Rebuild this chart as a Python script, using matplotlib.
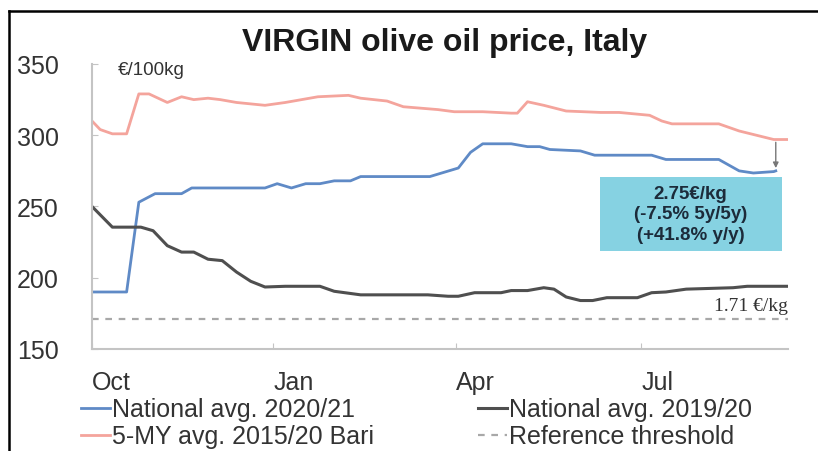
import pandas as pd
import matplotlib.pyplot as plt
from matplotlib.lines import Line2D
from matplotlib.patches import Rectangle

# ---- data (EUR/100kg) ----
nat_2021_dates = ['2020-10-04', '2020-10-21', '2020-10-27', '2020-11-04', '2020-11-17',
                  '2020-11-22', '2020-12-28', '2021-01-03', '2021-01-10', '2021-01-17',
                  '2021-01-24', '2021-01-31', '2021-02-08', '2021-02-13', '2021-03-19',
                  '2021-03-26', '2021-04-02', '2021-04-08', '2021-04-14', '2021-04-28',
                  '2021-05-06', '2021-05-12', '2021-05-17', '2021-06-01', '2021-06-08',
                  '2021-07-06', '2021-07-13', '2021-08-08', '2021-08-18', '2021-08-25',
                  '2021-09-04', '2021-09-05']
nat_2021_vals = [190, 190, 253, 259, 259, 263, 263, 266, 263, 266,
                 266, 268, 268, 271, 271, 274, 277, 288, 294, 294,
                 292, 292, 290, 289, 286, 286, 283, 283, 275, 273.5,
                 274.5, 275]

bari_dates = ['2020-10-04', '2020-10-08', '2020-10-14', '2020-10-21', '2020-10-27',
              '2020-11-01', '2020-11-10', '2020-11-17', '2020-11-23', '2020-11-30',
              '2020-12-06', '2020-12-14', '2020-12-28', '2021-01-07', '2021-01-23',
              '2021-02-07', '2021-02-13', '2021-02-26', '2021-03-06', '2021-03-23',
              '2021-03-31', '2021-04-14', '2021-04-28', '2021-05-01', '2021-05-06',
              '2021-05-14', '2021-05-25', '2021-06-11', '2021-06-20', '2021-07-05',
              '2021-07-11', '2021-07-16', '2021-08-08', '2021-08-18', '2021-09-04',
              '2021-09-11']
bari_vals = [310, 304, 301, 301, 329, 329, 323, 327, 325, 326,
             325, 323, 321, 323, 327, 328, 326, 324, 320, 318,
             316.5, 316.5, 315.5, 315.5, 323.5, 321, 317, 316, 316, 314,
             310, 308, 308, 303, 297, 297]

nat_1920_dates = ['2020-10-04', '2020-10-14', '2020-10-28', '2020-11-03', '2020-11-10',
                  '2020-11-17', '2020-11-23', '2020-11-30', '2020-12-07', '2020-12-14',
                  '2020-12-21', '2020-12-28', '2021-01-07', '2021-01-24', '2021-01-31',
                  '2021-02-13', '2021-03-18', '2021-03-28', '2021-04-02', '2021-04-10',
                  '2021-04-23', '2021-04-28', '2021-05-06', '2021-05-14', '2021-05-19',
                  '2021-05-25', '2021-06-01', '2021-06-07', '2021-06-14', '2021-06-29',
                  '2021-07-06', '2021-07-13', '2021-07-23', '2021-08-15', '2021-08-22',
                  '2021-09-11']
nat_1920_vals = [250, 235.5, 235.5, 233, 222.5, 218, 218, 213, 212, 204,
                 197.5, 193.5, 194, 194, 190.5, 188, 188, 187, 187, 189.5,
                 189.5, 191, 191, 193, 192, 186.5, 184, 184, 186, 186,
                 189.5, 190, 192, 193, 194, 194]

threshold_dates = ['2020-10-04', '2021-09-11']
threshold_vals = [171, 171]

month_ticks = ['2020-10-04', '2021-01-01', '2021-04-01', '2021-07-01']
month_labels = ['Oct', 'Jan', 'Apr', 'Jul']
yticks = [150, 200, 250, 300, 350]

plt.rcParams['font.family'] = ['Liberation Sans', 'DejaVu Sans']

BLUE = '#5f8ac6'
PINK = '#f4a49c'
DARK = '#4f4f4f'
GREY = '#a8a8a8'
SPINE = '#c4c4c4'

fig = plt.figure(figsize=(8.18, 4.52), dpi=100)
ax = fig.add_axes([0.1125, 0.2257, 0.8508, 0.6305])

l1, = ax.plot(pd.to_datetime(nat_2021_dates), nat_2021_vals, color=BLUE, lw=2)
l2, = ax.plot(pd.to_datetime(bari_dates), bari_vals, color=PINK, lw=2)
l3, = ax.plot(pd.to_datetime(nat_1920_dates), nat_1920_vals, color=DARK, lw=2.2)
l4, = ax.plot(pd.to_datetime(threshold_dates), threshold_vals, color=GREY, lw=1.6,
              ls=(0, (3, 3)))

ax.set_xlim(pd.Timestamp('2020-10-04'), pd.Timestamp('2021-09-11'))
ax.set_ylim(150, 350)
ax.set_yticks(yticks)
ax.set_xticks(pd.to_datetime(month_ticks))
ax.set_xticklabels(month_labels, ha='left')

for s in ['top', 'right']:
    ax.spines[s].set_visible(False)
for s in ['left', 'bottom']:
    ax.spines[s].set_color(SPINE)
    ax.spines[s].set_linewidth(1.5)
ax.tick_params(axis='both', direction='in', length=4, color=SPINE, labelsize=18,
               labelcolor='#333333')
ax.tick_params(axis='y', pad=24)
ax.tick_params(axis='x', pad=15)

# connector between 5-year average and current price
end_x = pd.Timestamp('2021-09-05')
ax.annotate('', xy=(end_x, 275), xytext=(end_x, 297),
            arrowprops=dict(arrowstyle='-|>', color='#777777', lw=1, mutation_scale=8))

# annotation box
ax.add_patch(Rectangle((0.730, 0.344), 0.261, 0.260, transform=ax.transAxes,
                       facecolor='#86d2e2', edgecolor='none', zorder=3))
ax.text(0.86, 0.474, '2.75€/kg\n(-7.5% 5y/5y)\n(+41.8% y/y)', transform=ax.transAxes,
        ha='center', va='center', fontsize=13.5, fontweight='bold', color='#1c2b3a',
        linespacing=1.25, zorder=4)

ax.text(0.037, 0.982, '€/100kg', transform=ax.transAxes, ha='left', va='center',
        fontsize=13.5, color='#333333')
ax.text(1.0, 0.151, '1.71 €/kg', transform=ax.transAxes, ha='right', va='center',
        fontsize=14, color='#333333', family=['Liberation Serif', 'DejaVu Serif'])

fig.text(0.543, 0.905, 'VIRGIN olive oil price, Italy', ha='center', va='center',
         fontsize=23, fontweight='bold', color='#1a1a1a')

ax.legend([l1, l2, l3, l4],
          ['National avg. 2020/21', '5-MY avg. 2015/20 Bari',
           'National avg. 2019/20', 'Reference threshold'],
          ncol=2, loc='upper left', bbox_to_anchor=(-0.03, -0.135), frameon=False,
          fontsize=18, handlelength=1.15, handletextpad=0.1, columnspacing=4.15,
          labelspacing=0.12, borderaxespad=0, labelcolor='#333333')

# frame lines (top and left)
fig.add_artist(Line2D([0.011, 1.0], [0.973, 0.973], color='black', lw=1.8,
                      transform=fig.transFigure))
fig.add_artist(Line2D([0.011, 0.011], [0.0, 0.973], color='black', lw=1.8,
                      transform=fig.transFigure))

fig.savefig('out.png', dpi=100)
